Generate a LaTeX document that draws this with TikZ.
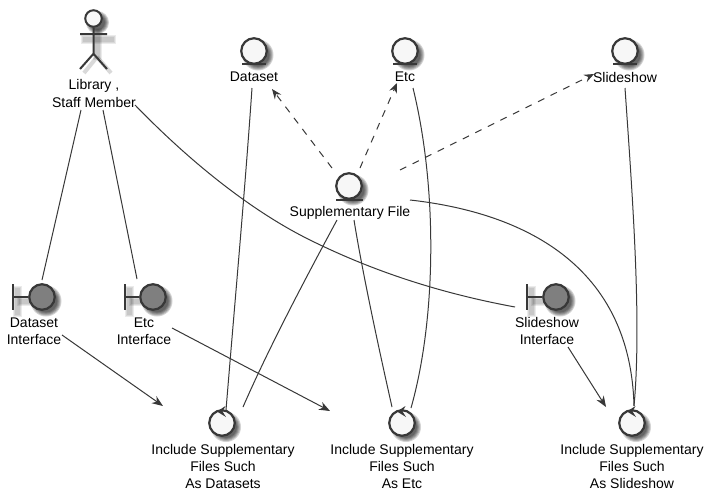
\documentclass[tikz,border=0pt]{standalone}
\usepackage{fontspec}
\setmainfont{Liberation Sans}
\usetikzlibrary{arrows.meta}
\definecolor{ink}{HTML}{383838}
\definecolor{paper}{HTML}{F7F7F7}
\definecolor{mid}{HTML}{7F7F7F}
\tikzset{
  x=1pt,y=-1pt,
  lbl/.style={align=center,inner sep=0pt,text=black,font=\fontsize{14}{17.3}\selectfont},
  glyph/.style={circle,draw=ink,line width=2.2pt,fill=paper,minimum size=25.5pt,inner sep=0pt},
  bnd/.style={glyph,fill=mid},
  glyphline/.style={draw=ink,line width=2pt},
  edge/.style={draw=ink,line width=1pt},
  darrow/.style={edge,dash pattern=on 7pt off 7pt,-{Stealth[length=10pt,width=8pt,inset=3.5pt]}},
  sarrow/.style={edge,-{Stealth[length=11pt,width=8.5pt,inset=3.5pt]}},
}
% soft round shadow
\newcommand{\softdisc}[3]{%
  \foreach \dr in {3,2,1,0,-1}{\fill[black,opacity=.17] (#1+4,#2+4) circle[radius=#3+\dr];}}
% soft bar shadow
\newcommand{\softbar}[4]{%
  \foreach \dr in {2.5,1.5,.5}{\fill[black,opacity=.08] (#1-\dr,#2-\dr) rectangle (#3+\dr,#4+\dr);}}
% control loop arrowhead
\newcommand{\loophead}[1]{\fill[ink] ([shift={(-5,-11.5)}]#1.center) -- ([shift={(3.5,-17)}]#1.center) -- ([shift={(0.5,-11.5)}]#1.center) -- ([shift={(4,-6)}]#1.center) -- cycle;}
\begin{document}
\begin{tikzpicture}
\useasboundingbox (0,0) rectangle (714,501);
\fill[white] (0,0) rectangle (714,501);
% shadows
\softdisc{93.5}{18.5}{8.5}
\softbar{83}{37}{113}{41}
\softbar{95}{30}{99}{57}
\draw[black,opacity=.15,line width=4pt] (97,57) -- (84,73) (97,57) -- (111,73);
\softdisc{254}{51}{12.5}
\softdisc{405}{51}{12.5}
\softdisc{625}{51}{12.5}
\softdisc{349}{186}{12.5}
\softdisc{42}{297}{12.5}
\softdisc{153}{297}{12.5}
\softdisc{556}{297}{12.5}
\softbar{15}{288}{19}{314}\softbar{19}{299}{33}{303}
\softbar{127}{288}{131}{314}\softbar{131}{299}{144}{303}
\softbar{529}{288}{533}{314}\softbar{533}{299}{547}{303}
\softdisc{222}{423}{12}
\softdisc{402}{423}{12}
\softdisc{632}{423}{12}
% actor
\node[circle,draw=ink,line width=2pt,fill=paper,minimum size=16.5pt,inner sep=0pt] (libhead) at (93.5,18.5) {};
\draw[glyphline] (libhead.south) -- ++(0,26) coordinate (libhip) (80,34) -- (107,34) (80,69) -- (libhip) -- (107,69);
\node[lbl] (lib) at (94,93.5) {Library ,\\Staff Member};
% entities
\node[glyph] (ds) at (254,51) {};
\node[glyph] (etc) at (405,51) {};
\node[glyph] (sl) at (625,51) {};
\node[glyph] (sf) at (349,186) {};
\draw[glyphline] (242,64) -- (266,64) (393,64) -- (417,64) (613,64) -- (637,64) (336,200) -- (363,200);
\node[lbl] (dsl) at (254,77) {Dataset};
\node[lbl] (etcl) at (405,77) {Etc};
\node[lbl] (sll) at (625,77) {Slideshow};
\node[lbl] (sfl) at (350,213) {Supplementary File};
% boundaries
\node[bnd] (bds) at (42,297) {};
\node[bnd] (betc) at (153,297) {};
\node[bnd] (bsl) at (556,297) {};
\draw[glyphline] (13,284) -- (13,310) (13,297) -- (bds.west);
\draw[glyphline] (125,284) -- (125,310) (125,297) -- (betc.west);
\draw[glyphline] (527,284) -- (527,310) (527,297) -- (bsl.west);
\node[lbl] (bdsl) at (34,331) {Dataset\\Interface};
\node[lbl] (betcl) at (144,331) {Etc\\Interface};
\node[lbl] (bsll) at (547,331) {Slideshow\\Interface};
% controls
\node[glyph] (cds) at (222,423) {};
\node[glyph] (cetc) at (402,423) {};
\node[glyph] (csl) at (632,423) {};
\loophead{cds}\loophead{cetc}\loophead{csl}
\node[lbl] (cdsl) at (223,466.5) {Include Supplementary\\Files Such\\As Datasets};
\node[lbl] (cetcl) at (402,466.5) {Include Supplementary\\Files Such\\As Etc};
\node[lbl] (csll) at (632,466.5) {Include Supplementary\\Files Such\\As Slideshow};
% connectors (offsets are from the named node centres)
\draw[edge] ([shift={(-13,16.5)}]lib.center) -- ([shift={(0,-17)}]bds.center);
\draw[edge] ([shift={(9,16.5)}]lib.center) -- ([shift={(-16,-18)}]betc.center);
\draw[edge] ([shift={(41,11.5)}]lib.center) .. controls (200,172) and (260,215) .. (308,239) .. controls (380,275) and (450,295) .. ([shift={(-41,10)}]bsl.center);
\draw[edge] ([shift={(-2,11)}]dsl.center) .. controls (245,190) and (235,300) .. ([shift={(4,-13)}]cds.center);
\draw[edge] ([shift={(-13,7)}]sfl.center) .. controls (310,270) and (270,345) .. ([shift={(21,-16)}]cds.center);
\draw[edge] ([shift={(4,7)}]sfl.center) .. controls (362,270) and (378,345) .. ([shift={(-10,-16)}]cetc.center);
\draw[edge] ([shift={(8,11)}]etcl.center) .. controls (438,190) and (436,320) .. ([shift={(9,-15)}]cetc.center);
\draw[edge] ([shift={(0,11)}]sll.center) .. controls (632,190) and (642,320) .. ([shift={(2,-17)}]csl.center);
\draw[edge] ([shift={(60,-13)}]sfl.center) .. controls (500,210) and (630,250) .. ([shift={(2,-17)}]csl.center);
\path[darrow] ([shift={(-17,-18)}]sf.center) -- ([shift={(18,12)}]dsl.center);
\path[darrow] ([shift={(11,-18)}]sf.center) -- ([shift={(-8,6)}]etcl.center);
\path[darrow] ([shift={(51,-16)}]sf.center) -- ([shift={(-31,-3)}]sll.center);
\path[sarrow] ([shift={(28,4)}]bdsl.center) -- ([shift={(-59,-17)}]cds.center);
\path[sarrow] ([shift={(28,-3)}]betcl.center) -- ([shift={(-72,-12)}]cetc.center);
\path[sarrow] ([shift={(21,16)}]bsll.center) -- ([shift={(-26,-16)}]csl.center);
\end{tikzpicture}
\end{document}
